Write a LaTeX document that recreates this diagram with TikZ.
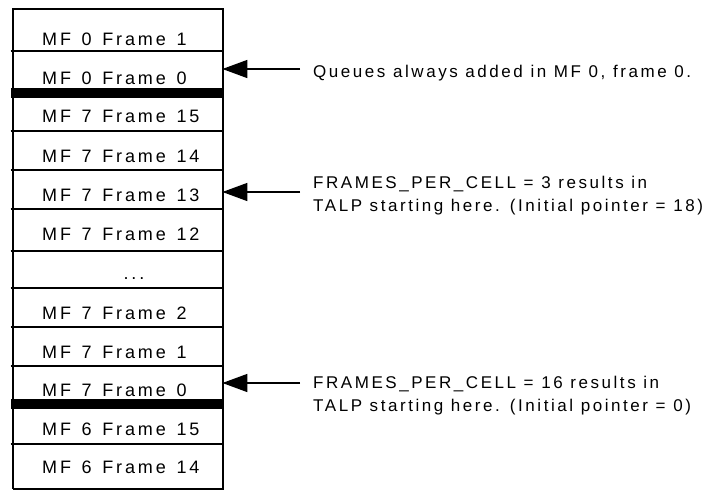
\documentclass[tikz,border=0pt]{standalone}
\usepackage{fontspec}
\setmainfont{Liberation Sans}
\newfontfamily\cellfont{Liberation Sans}[LetterSpace=16,WordSpace=1.35]
\newfontfamily\notefont{Liberation Sans}[LetterSpace=15,WordSpace=1.05]
\usetikzlibrary{arrows.meta}
\begin{document}
\begin{tikzpicture}[x=1pt,y=-1pt,
  cellline/.style={line width=1.5pt},
  border/.style={line width=2pt},
  band/.style={fill=black},
  cellbox/.style={draw=none,inner sep=0pt,minimum width=210pt,anchor=north west},
  lbl/.style={anchor=base west,inner sep=0pt,font=\cellfont\fontsize{18}{22}\selectfont},
  note/.style={anchor=base west,inner sep=0pt,font=\notefont\fontsize{17}{23}\selectfont},
  arr/.style={line width=1.5pt,-{Triangle[length=25pt,width=18pt]}}]
\useasboundingbox (0,0) rectangle (710,490);
\fill[white] (0,0) rectangle (710,490);
% cell areas
\node[cellbox,minimum height=42pt] (c1) at (12,9) {};
\node[cellbox,minimum height=42pt] (c2) at (12,51) {};
\node[cellbox,minimum height=38pt] (c3) at (12,93) {};
\node[cellbox,minimum height=39pt] (c4) at (12,131) {};
\node[cellbox,minimum height=39pt] (c5) at (12,170) {};
\node[cellbox,minimum height=42pt] (c6) at (12,209) {};
\node[cellbox,minimum height=37pt] (c7) at (12,251) {};
\node[cellbox,minimum height=39pt] (c8) at (12,288) {};
\node[cellbox,minimum height=39pt] (c9) at (12,327) {};
\node[cellbox,minimum height=38pt] (c10) at (12,366) {};
\node[cellbox,minimum height=40pt] (c11) at (12,404) {};
\node[cellbox,minimum height=44pt] (c12) at (12,444) {};
% separators
\foreach \y in {51,131,170,209,251,288,327,366,444}
  \draw[cellline] (10.5,\y) -- (222.5,\y);
\fill[band] (10.5,88) rectangle (222.5,98);
\fill[band] (10.5,399) rectangle (222.5,409);
% outer border
\draw[border] (12.5,488.5) -- (12.5,9) -- (222.5,9) -- (222.5,488.5) -- (12.5,488.5);
% labels
\node[lbl] (l1) at (42,45) {MF 0 Frame 1};
\node[lbl] (l2) at (42,84) {MF 0 Frame 0};
\node[lbl] (l3) at (42,122) {MF 7 Frame 15};
\node[lbl] (l4) at (42,162) {MF 7 Frame 14};
\node[lbl] (l5) at (42,201) {MF 7 Frame 13};
\node[lbl] (l6) at (42,240) {MF 7 Frame 12};
\node[lbl,anchor=base] (l7) at (134,279) {...};
\node[lbl] (l8) at (42,319) {MF 7 Frame 2};
\node[lbl] (l9) at (42,358) {MF 7 Frame 1};
\node[lbl] (l10) at (42,396) {MF 7 Frame 0};
\node[lbl] (l11) at (42,435) {MF 6 Frame 15};
\node[lbl] (l12) at (42,473) {MF 6 Frame 14};
% notes
\node[note] (n1) at (313,77) {Queues always added in MF 0, frame 0.};
\node[note] (n2a) at (313,188) {FRAMES\_PER\_CELL = 3 results in};
\node[note] (n2b) at (313,211) {TALP starting here. (Initial pointer = 18)};
\node[note] (n3a) at (313,388) {FRAMES\_PER\_CELL = 16 results in};
\node[note] (n3b) at (313,411) {TALP starting here. (Initial pointer = 0)};
% arrows
\coordinate (s1) at (300,69);
\coordinate (s2) at (300,192);
\coordinate (s3) at (300,383);
\draw[arr] (s1) -- (c2.east |- s1);
\draw[arr] (s2) -- (c5.east |- s2);
\draw[arr] (s3) -- (c10.east |- s3);
\end{tikzpicture}
\end{document}
